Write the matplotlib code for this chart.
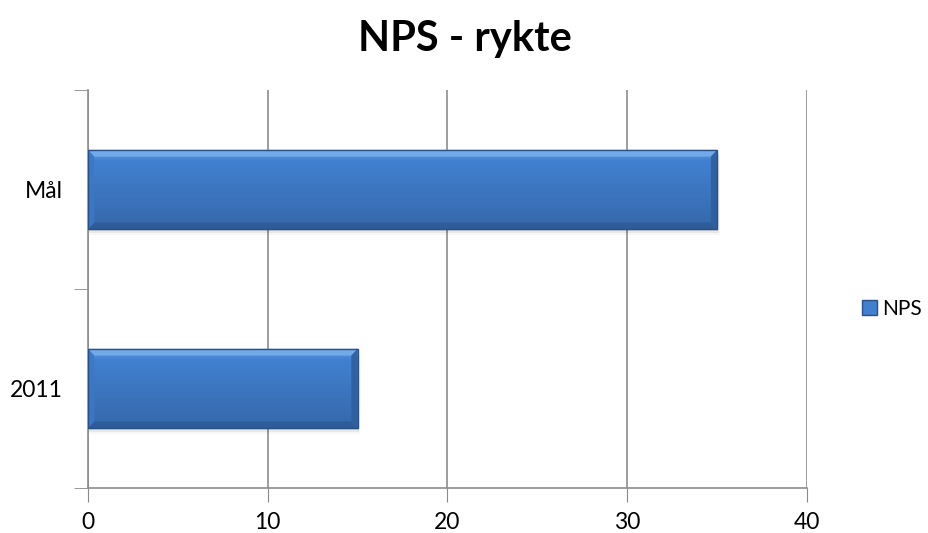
import numpy as np
import matplotlib.pyplot as plt
from matplotlib.patches import Rectangle, Polygon

# chart data
categories = ['2011', 'Mål']
values = [15, 35]
series_name = 'NPS'
xticks = [0, 10, 20, 30, 40]

plt.rcParams['font.family'] = ['Lato', 'DejaVu Sans']

fig = plt.figure(figsize=(9.29, 5.33), dpi=100)
ax = fig.add_axes([0.0947, 0.0844, 0.774, 0.7467])

bar_h = 0.4
y_pos = np.arange(len(categories))

# gradient for the bar face (top light -> bottom darker)
grad = np.linspace(0, 1, 64).reshape(-1, 1)
top_col = np.array([0x5e, 0x97, 0xdc]) / 255
mid_col = np.array([0x41, 0x80, 0xd0]) / 255
bot_col = np.array([0x36, 0x68, 0xab]) / 255
rgb = np.where(grad < 0.15,
               top_col + (mid_col - top_col) * (grad / 0.15),
               mid_col + (bot_col - mid_col) * ((grad - 0.15) / 0.85))
img = rgb.reshape(64, 1, 3)

for y, v in zip(y_pos, values):
    y0, y1 = y - bar_h / 2, y + bar_h / 2
    # soft shadow below
    for k, a in enumerate([0.09, 0.06, 0.03]):
        d = 0.01 * (k + 1)
        ax.add_patch(Rectangle((0.05, y0 - d), v + 0.05 * k, bar_h, facecolor='black',
                               alpha=a, edgecolor='none', zorder=2))
    im = ax.imshow(img, extent=[0, v, y0, y1], aspect='auto', origin='upper', zorder=3)
    rect = Rectangle((0, y0), v, bar_h, facecolor='none', edgecolor='#2a5186', linewidth=1.0, zorder=5)
    ax.add_patch(rect)
    im.set_clip_path(rect)
    # bevel edges
    bx = 0.35
    by = 0.035
    ax.add_patch(Polygon([(0, y1), (v, y1), (v - bx, y1 - by), (bx, y1 - by)],
                         facecolor='#7ab2ee', edgecolor='none', alpha=0.8, zorder=4))
    ax.add_patch(Polygon([(0, y0), (v, y0), (v - bx, y0 + by), (bx, y0 + by)],
                         facecolor='#2d5a96', edgecolor='none', alpha=0.8, zorder=4))
    ax.add_patch(Polygon([(0, y0), (0, y1), (bx, y1 - by), (bx, y0 + by)],
                         facecolor='#3c78c4', edgecolor='none', alpha=0.9, zorder=4))
    ax.add_patch(Polygon([(v, y0), (v, y1), (v - bx, y1 - by), (v - bx, y0 + by)],
                         facecolor='#2f5f9e', edgecolor='none', alpha=0.9, zorder=4))

ax.set_xlim(0, 40)
ax.set_ylim(-0.5, len(categories) - 0.5)
ax.set_xticks(xticks)
ax.set_xticklabels([str(t) for t in xticks], fontsize=16.5)
ax.set_yticks(y_pos)
ax.set_yticklabels(categories, fontsize=16.5)
ax.set_yticks([-0.5, 0.5, 1.5], minor=True)
ax.tick_params(axis='y', which='major', length=0, pad=18)
ax.tick_params(axis='y', which='minor', length=10, color='#888888', direction='out')
ax.tick_params(axis='x', length=10, color='#888888', direction='out', pad=7)
ax.grid(axis='x', color='#8c8c8c', linewidth=1.2, zorder=1)
ax.set_axisbelow(True)

for s in ['top', 'right']:
    ax.spines[s].set_visible(False)
for s in ['left', 'bottom']:
    ax.spines[s].set_color('#8c8c8c')
    ax.spines[s].set_linewidth(1.2)

fig.text(0.5, 0.962, 'NPS - rykte', ha='center', va='top', fontsize=30, fontweight='bold')

# legend
handle = Rectangle((0, 0), 1, 1, facecolor='#4180d0', edgecolor='#2a5186')
fig.legend([handle], [series_name], loc='center left', bbox_to_anchor=(0.928, 0.421),
           frameon=False, fontsize=15, handlelength=0.7, handleheight=0.7, handletextpad=0.25,
           borderaxespad=0, borderpad=0)

fig.savefig('out.png', dpi=100)
